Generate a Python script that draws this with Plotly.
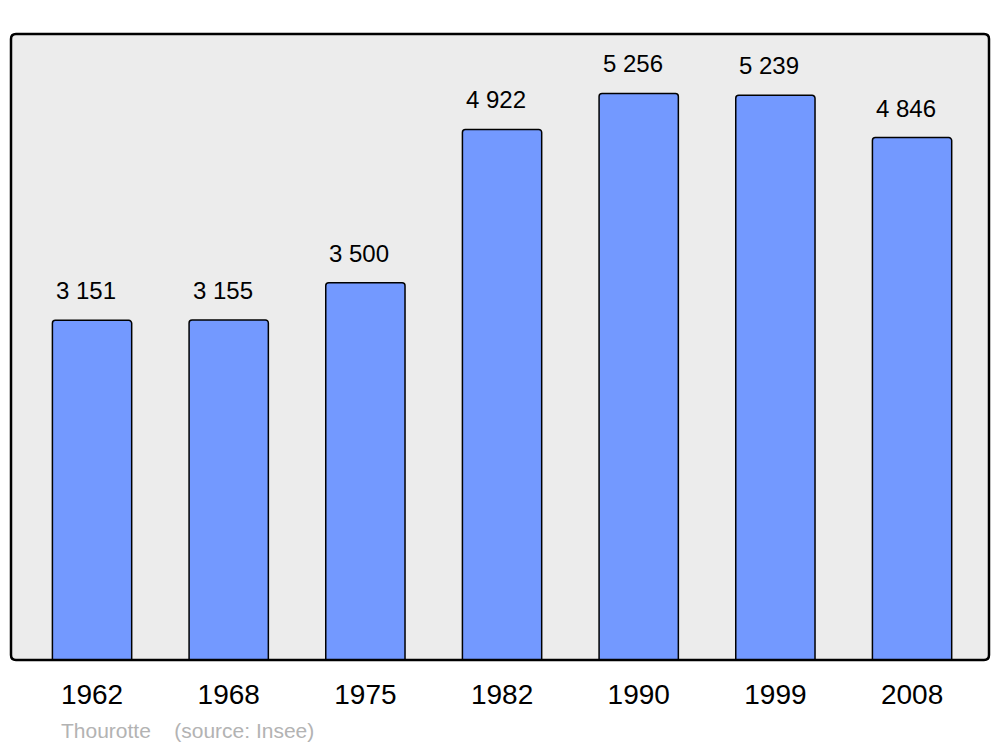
import plotly.graph_objects as go

# données : population de Thourotte (Insee)
annees = ["1962", "1968", "1975", "1982", "1990", "1999", "2008"]
population = [3151, 3155, 3500, 4922, 5256, 5239, 4846]
etiquettes = ["3 151", "3 155", "3 500", "4 922", "5 256", "5 239", "4 846"]

W, H = 1000, 747
L, R, T, B = 11, 11, 34, 87
pw, ph = W - L - R, H - T - B

fig = go.Figure()

fig.add_trace(go.Bar(
    x=list(range(len(annees))),
    y=population,
    width=0.58,
    marker=dict(color="#7399ff", line=dict(color="black", width=1.5), cornerradius=3),
    hoverinfo="skip",
))

# étiquettes de valeur au-dessus des barres
for i, (v, t) in enumerate(zip(population, etiquettes)):
    fig.add_annotation(
        x=i, y=v, text=t, showarrow=False,
        xanchor="center", yanchor="bottom", xshift=-6, yshift=14,
        font=dict(family="Liberation Sans, Arial", size=24, color="black"),
    )


def cadre(r=5):
    # rectangle aux coins arrondis en coordonnées "paper"
    rx, ry = r / pw, r / ph
    return (f"M {rx},0 L {1-rx},0 Q 1,0 1,{ry} L 1,{1-ry} Q 1,1 {1-rx},1 "
            f"L {rx},1 Q 0,1 0,{1-ry} L 0,{ry} Q 0,0 {rx},0 Z")


fig.add_shape(type="path", path=cadre(), xref="paper", yref="paper",
              fillcolor="#ececec", line=dict(width=0), layer="below")
fig.add_shape(type="path", path=cadre(), xref="paper", yref="paper",
              line=dict(color="black", width=2.5), layer="above")

fig.add_annotation(
    x=(59 - L) / pw, y=-(730 - T - ph) / ph, xref="paper", yref="paper",
    text="Thourotte&nbsp;&nbsp;&nbsp;&nbsp;(source: Insee)", showarrow=False,
    xanchor="left", yanchor="middle",
    font=dict(family="Liberation Sans, Arial", size=21, color="#b3b3b3"),
)

fig.update_layout(
    width=W, height=H,
    margin=dict(l=L, r=R, t=T, b=B),
    paper_bgcolor="white", plot_bgcolor="white",
    showlegend=False,
    xaxis=dict(
        range=[-0.593, 6.563], tickvals=list(range(len(annees))), ticktext=annees,
        showgrid=False, zeroline=False, showline=False, ticks="",
        ticklabelstandoff=15,
        tickfont=dict(family="Liberation Sans, Arial", size=28, color="black"),
    ),
    yaxis=dict(range=[0, 5807], visible=False, showgrid=False),
)

fig.write_html("out.html", config={"displayModeBar": False},
               post_script="document.body.style.margin='0';")
